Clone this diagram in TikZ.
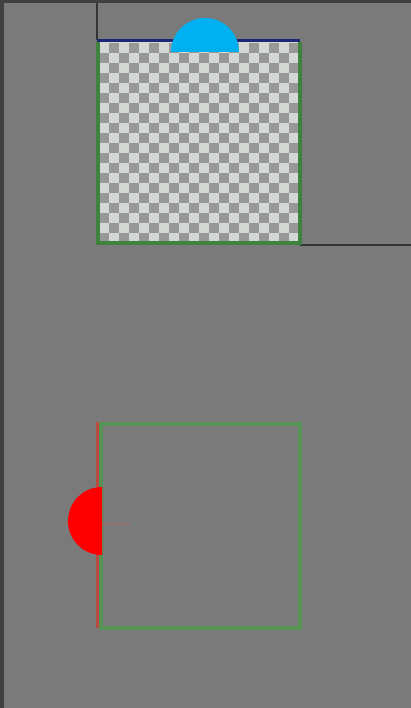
\documentclass[tikz,border=0pt]{standalone}
\definecolor{bg}{RGB}{122,122,122}
\definecolor{strip}{RGB}{64,64,64}
\definecolor{edge}{RGB}{52,52,52}
\definecolor{chklight}{RGB}{212,216,212}
\definecolor{chkdark}{RGB}{152,152,152}
\definecolor{greenA}{RGB}{62,130,62}
\definecolor{greenB}{RGB}{86,148,86}
\definecolor{navy}{RGB}{30,40,120}
\definecolor{skyblue}{RGB}{0,176,240}
\definecolor{redline}{RGB}{185,75,65}
\definecolor{faint}{RGB}{160,115,105}
\begin{document}
\begin{tikzpicture}[x=1pt,y=-1pt,
  boxline/.style={line width=3.5pt},
  darkline/.style={draw=edge,line width=2pt}]
\useasboundingbox (0,0) rectangle (411,708);
\fill[bg] (0,0) rectangle (411,708);
\fill[strip] (0,0) rectangle (4,708);
\fill[strip] (0,0) rectangle (411,3);
% dark guide lines
\draw[darkline] (97,3) -- (97,40);
\draw[darkline] (300,245) -- (411,245);
% checkerboard
\fill[chklight] (99,42) rectangle (299,243);
\foreach \i in {0,...,19}{
  \foreach \j in {0,...,19}{
    \pgfmathtruncatemacro{\p}{mod(\i+\j,2)}
    \ifnum\p=1
      \fill[chkdark] (99+\i*10,43+\j*10) rectangle (109+\i*10,53+\j*10);
    \fi
  }
}
% top box border
\draw[greenA,boxline] (98,42) -- (98,243) -- (300,243) -- (300,42);
\draw[navy,line width=3pt] (97,41) -- (300,41);
% blue half disc
\fill[skyblue] (171,52) arc[start angle=180,end angle=360,radius=34] -- cycle;
% bottom box
\draw[greenB,boxline] (101,424) rectangle (300,628);
\draw[redline,line width=3pt] (97,422) -- (97,628);
\draw[faint,line width=1.5pt,opacity=0.6] (65,524) -- (130,524);
% red half disc
\fill[red] (102,487) arc[start angle=270,end angle=90,radius=34] -- cycle;
\end{tikzpicture}
\end{document}
